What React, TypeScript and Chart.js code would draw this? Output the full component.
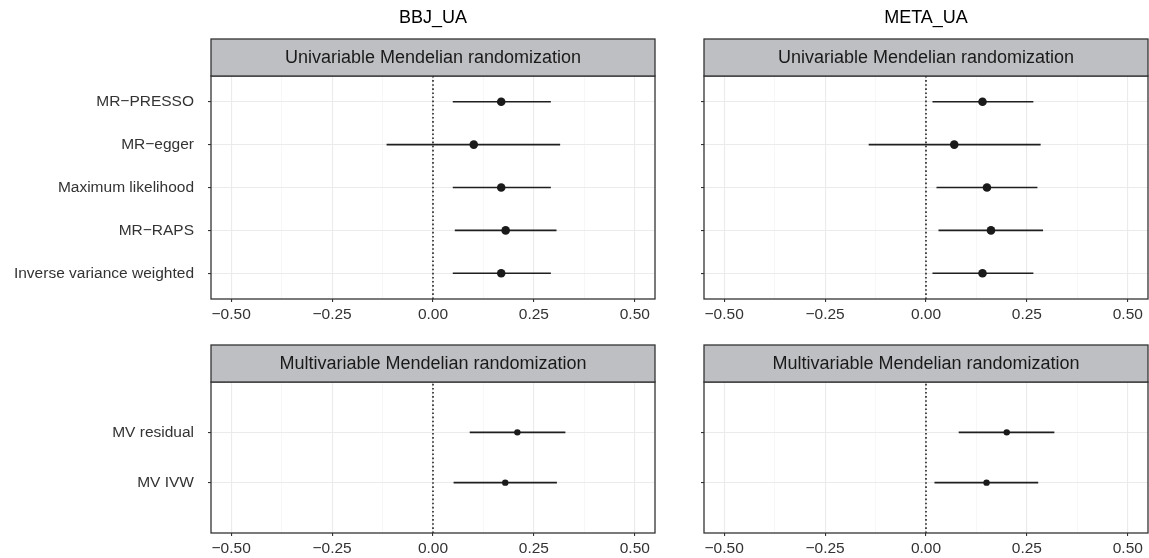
import React, { useEffect, useRef } from 'react';
import { Chart, registerables } from 'chart.js';

Chart.register(...registerables);

const FONT = "'Liberation Sans', Arial, Helvetica, sans-serif";

// ---------- data ----------
const uniMethods = ['MR\u2212PRESSO', 'MR\u2212egger', 'Maximum likelihood', 'MR\u2212RAPS', 'Inverse variance weighted'];
const bbjUniEst = [0.169, 0.101, 0.169, 0.180, 0.169];
const bbjUniLow = [0.049, -0.115, 0.049, 0.054, 0.049];
const bbjUniHigh = [0.292, 0.315, 0.292, 0.306, 0.292];
const metaUniEst = [0.140, 0.070, 0.151, 0.161, 0.140];
const metaUniLow = [0.016, -0.142, 0.026, 0.031, 0.016];
const metaUniHigh = [0.266, 0.284, 0.276, 0.290, 0.266];

const mvMethods = ['MV residual', 'MV IVW'];
const bbjMvEst = [0.209, 0.179];
const bbjMvLow = [0.091, 0.051];
const bbjMvHigh = [0.328, 0.307];
const metaMvEst = [0.200, 0.150];
const metaMvLow = [0.081, 0.021];
const metaMvHigh = [0.318, 0.278];

const xTickValues = [-0.5, -0.375, -0.25, -0.125, 0, 0.125, 0.25, 0.375, 0.5];
const xTickLabels = ['\u22120.50', '', '\u22120.25', '', '0.00', '', '0.25', '', '0.50'];
const columnTitles = ['BBJ_UA', 'META_UA'];
const stripLabels = ['Univariable Mendelian randomization', 'Multivariable Mendelian randomization'];

const decorPlugin = {
  id: 'panelDecor',
  afterDraw(chart: any, _args: any, opts: any) {
    const { ctx, chartArea: a } = chart;
    const w = a.right - a.left;
    ctx.save();
    ctx.strokeStyle = '#333333';
    ctx.lineWidth = 1.3;
    ctx.strokeRect(a.left, a.top, w, a.bottom - a.top);
    const sh = opts.stripHeight;
    ctx.fillStyle = '#bebfc3';
    ctx.fillRect(a.left, a.top - sh, w, sh);
    ctx.strokeRect(a.left, a.top - sh, w, sh);
    ctx.fillStyle = '#1a1a1a';
    ctx.font = `18px ${FONT}`;
    ctx.textAlign = 'center';
    ctx.textBaseline = 'middle';
    ctx.fillText(opts.strip, a.left + w / 2, a.top - sh / 2 + 1);
    if (opts.title) {
      ctx.fillStyle = '#000000';
      ctx.font = `18px ${FONT}`;
      ctx.fillText(opts.title, a.left + w / 2, opts.titleY);
    }
    ctx.restore();
  },
};

type PanelProps = {
  cats: string[];
  est: number[];
  low: number[];
  high: number[];
  showLabels: boolean;
  strip: string;
  title?: string;
  radius: number;
  yMin: number;
  yMax: number;
  left: number;
  top: number;
  width: number;
  height: number;
  padTop: number;
  padRight: number;
  yAxisWidth: number;
  xAxisHeight: number;
};

function Panel(p: PanelProps) {
  const ref = useRef<HTMLCanvasElement | null>(null);
  useEffect(() => {
    if (!ref.current) return;
    const n = p.cats.length;
    const yOf = (i: number) => n - i;
    const ciSets = p.cats.map((c, i) => ({
      label: c,
      data: [
        { x: p.low[i], y: yOf(i) },
        { x: p.high[i], y: yOf(i) },
      ],
      showLine: true,
      borderColor: '#1f1f1f',
      borderWidth: 1.7,
      pointRadius: 0,
      order: 1,
    }));
    const isMajor = (v: any) => xTickValues.indexOf(v) % 2 === 0;
    const chart = new Chart(ref.current, {
      type: 'scatter',
      data: {
        datasets: [
          {
            label: 'estimate',
            data: p.est.map((v, i) => ({ x: v, y: yOf(i) })),
            backgroundColor: '#1a1a1a',
            borderColor: '#1a1a1a',
            pointRadius: p.radius,
            pointBorderWidth: 0,
            order: 0,
          } as any,
          ...ciSets,
          {
            label: 'zero',
            data: [
              { x: 0, y: p.yMin },
              { x: 0, y: p.yMax },
            ],
            showLine: true,
            borderColor: '#222222',
            borderWidth: 1.6,
            borderDash: [1.6, 2.5],
            pointRadius: 0,
            order: 2,
          },
        ],
      },
      options: {
        animation: false,
        responsive: false,
        devicePixelRatio: 1,
        events: [],
        layout: { padding: { top: p.padTop, right: p.padRight, left: 0, bottom: 0 } },
        plugins: {
          legend: { display: false },
          tooltip: { enabled: false },
          panelDecor: { strip: p.strip, title: p.title, stripHeight: 37, titleY: 18 },
        } as any,
        scales: {
          x: {
            type: 'linear',
            min: -0.55,
            max: 0.55,
            afterBuildTicks: (s: any) => {
              s.ticks = xTickValues.map((v) => ({ value: v }));
            },
            afterFit: (s: any) => {
              s.height = p.xAxisHeight;
            },
            border: { display: false },
            grid: {
              color: (ctx: any) => (isMajor(ctx.tick?.value) ? '#ebebeb' : '#f4f4f4'),
              lineWidth: (ctx: any) => (isMajor(ctx.tick?.value) ? 1.1 : 0.7),
              tickColor: (ctx: any) => (isMajor(ctx.tick?.value) ? '#333333' : 'rgba(0,0,0,0)'),
              tickLength: 3,
              tickWidth: 1.1,
            },
            ticks: {
              autoSkip: false,
              maxRotation: 0,
              padding: 3,
              color: '#333333',
              font: { family: FONT, size: 15.5 },
              callback: (v: any) => {
                const k = xTickValues.indexOf(Number(v));
                return k >= 0 ? xTickLabels[k] : '';
              },
            },
          },
          y: {
            type: 'linear',
            min: p.yMin,
            max: p.yMax,
            afterBuildTicks: (s: any) => {
              s.ticks = p.cats.map((_, i) => ({ value: yOf(i) }));
            },
            afterFit: (s: any) => {
              s.width = p.yAxisWidth;
            },
            border: { display: false },
            grid: {
              color: '#ebebeb',
              lineWidth: 1.1,
              tickColor: '#333333',
              tickLength: 3,
              tickWidth: 1.1,
            },
            ticks: {
              autoSkip: false,
              padding: 14,
              color: '#333333',
              font: { family: FONT, size: 15.5 },
              callback: (v: any) => {
                if (!p.showLabels) return '';
                const i = n - Number(v);
                return p.cats[i] ?? '';
              },
            },
          },
        },
      },
      plugins: [decorPlugin],
    });
    return () => chart.destroy();
  }, []);
  return (
    <canvas
      ref={ref}
      width={p.width}
      height={p.height}
      style={{ position: 'absolute', left: p.left, top: p.top, width: p.width, height: p.height, display: 'block' }}
    />
  );
}

export default function App() {
  return (
    <div style={{ position: 'absolute', left: 0, top: 0, width: 1149, height: 558, background: '#ffffff', overflow: 'hidden' }}>
      <Panel
        cats={uniMethods} est={bbjUniEst} low={bbjUniLow} high={bbjUniHigh}
        showLabels strip={stripLabels[0]} title={columnTitles[0]} radius={4.3}
        yMin={0.4} yMax={5.6}
        left={0} top={0} width={700} height={330}
        padTop={76} padRight={45} yAxisWidth={211} xAxisHeight={31}
      />
      <Panel
        cats={uniMethods} est={metaUniEst} low={metaUniLow} high={metaUniHigh}
        showLabels={false} strip={stripLabels[0]} title={columnTitles[1]} radius={4.3}
        yMin={0.4} yMax={5.6}
        left={660} top={0} width={510} height={330}
        padTop={76} padRight={22} yAxisWidth={44} xAxisHeight={31}
      />
      <Panel
        cats={mvMethods} est={bbjMvEst} low={bbjMvLow} high={bbjMvHigh}
        showLabels strip={stripLabels[1]} radius={3.2}
        yMin={0} yMax={3}
        left={0} top={330} width={700} height={228}
        padTop={52} padRight={45} yAxisWidth={211} xAxisHeight={25}
      />
      <Panel
        cats={mvMethods} est={metaMvEst} low={metaMvLow} high={metaMvHigh}
        showLabels={false} strip={stripLabels[1]} radius={3.2}
        yMin={0} yMax={3}
        left={660} top={330} width={510} height={228}
        padTop={52} padRight={22} yAxisWidth={44} xAxisHeight={25}
      />
    </div>
  );
}
